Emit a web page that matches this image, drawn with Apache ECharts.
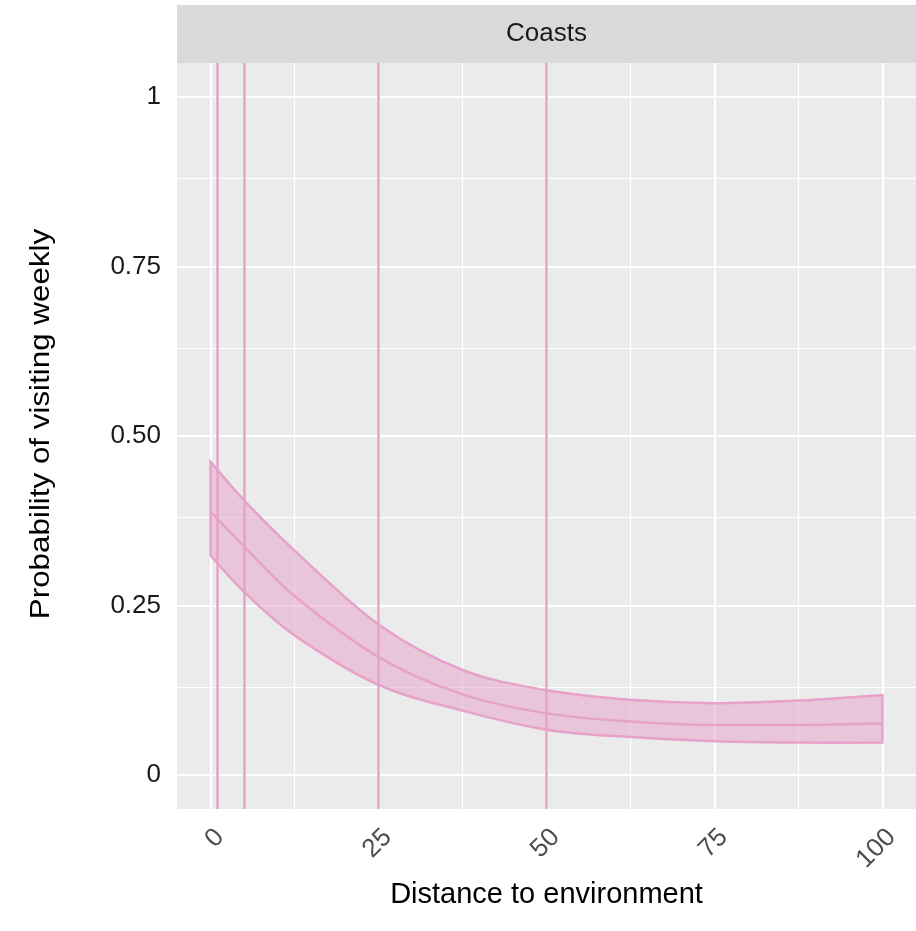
<!DOCTYPE html>
<html><head><meta charset="utf-8">
<script src="https://cdn.jsdelivr.net/npm/echarts@6/dist/echarts.min.js"></script>
<style>html,body{margin:0;padding:0;background:#fff}#c{width:916px;height:931px}</style>
</head><body><div id="c"></div>
<script>
// ---- data ----
const distance   = [0, 5, 12.5, 25, 37.5, 50, 62.5, 75, 87.5, 100];
const probFit    = [0.388, 0.337, 0.264, 0.174, 0.119, 0.091, 0.079, 0.074, 0.074, 0.076];
const probUpper  = [0.462, 0.405, 0.331, 0.222, 0.155, 0.125, 0.111, 0.106, 0.110, 0.118];
const probLower  = [0.324, 0.270, 0.206, 0.133, 0.095, 0.067, 0.056, 0.050, 0.048, 0.048];
const refDistances = [1, 5, 25, 50];
const xMajorTicks = [0, 25, 50, 75, 100];
const xMinorTicks = [12.5, 37.5, 62.5, 87.5];
const yMajorTicks = [0, 0.25, 0.5, 0.75, 1];
const yTickLabels = ['0', '0.25', '0.50', '0.75', '1'];
const yMinorTicks = [0.125, 0.375, 0.625, 0.875];
const panelTitle = 'Coasts';
const xTitle = 'Distance to environment';
const yTitle = 'Probability of visiting weekly';

// ---- styling ----
const PINK = '#e6a2c9';
const FILL = 'rgba(230,160,200,0.5)';
const FONT = '"Liberation Sans", Arial, Helvetica, sans-serif';
const GL = 177, GT = 63, GB = 122, W = 916, H = 931;

const chart = echarts.init(document.getElementById('c'), null, {renderer: 'canvas'});

const gridLines = [];
xMajorTicks.forEach(v => gridLines.push({xAxis: v, lineStyle: {color: '#fff', width: 2.2, type: 'solid'}}));
xMinorTicks.forEach(v => gridLines.push({xAxis: v, lineStyle: {color: '#fff', width: 1.1, type: 'solid'}}));
yMajorTicks.forEach(v => gridLines.push({yAxis: v, lineStyle: {color: '#fff', width: 2.2, type: 'solid'}}));
yMinorTicks.forEach(v => gridLines.push({yAxis: v, lineStyle: {color: '#fff', width: 1.1, type: 'solid'}}));

// Catmull-Rom spline segments in pixel space (rendering only)
function splineSegs(pts) {
  let s = '';
  for (let i = 0; i < pts.length - 1; i++) {
    const p0 = pts[i - 1] || pts[i], p1 = pts[i], p2 = pts[i + 1], p3 = pts[i + 2] || pts[i + 1];
    const c1x = p1[0] + (p2[0] - p0[0]) / 6, c1y = p1[1] + (p2[1] - p0[1]) / 6;
    const c2x = p2[0] - (p3[0] - p1[0]) / 6, c2y = p2[1] - (p3[1] - p1[1]) / 6;
    s += ` C${c1x} ${c1y} ${c2x} ${c2y} ${p2[0]} ${p2[1]}`;
  }
  return s;
}

const option = {
  animation: false,
  backgroundColor: '#ffffff',
  grid: {left: GL, right: 0, top: GT, bottom: GB, show: true, backgroundColor: '#ebebeb', borderWidth: 0},
  xAxis: {
    type: 'value', min: -5, max: 105,
    name: xTitle, nameLocation: 'middle', nameGap: 63,
    nameTextStyle: {fontFamily: FONT, fontSize: 29, color: '#000'},
    axisLine: {show: false},
    axisTick: {show: true, customValues: xMajorTicks, length: 8, lineStyle: {color: '#333', width: 2}},
    axisLabel: {customValues: xMajorTicks, rotate: 45, margin: 15, verticalAlign: 'top',
      fontFamily: FONT, fontSize: 26, color: '#4d4d4d'},
    splitLine: {show: false}
  },
  yAxis: {
    type: 'value', min: -0.05, max: 1.05,
    axisLine: {show: false},
    axisTick: {show: true, customValues: yMajorTicks, length: 8, lineStyle: {color: '#333', width: 2}},
    axisLabel: {customValues: yMajorTicks, margin: 16, fontFamily: FONT, fontSize: 26, color: '#1a1a1a',
      formatter: v => { const i = yMajorTicks.findIndex(t => Math.abs(t - v) < 1e-9); return i >= 0 ? yTickLabels[i] : ''; }},
    splitLine: {show: false}
  },
  graphic: [
    {type: 'rect', left: GL, top: 5, shape: {width: W - GL, height: GT - 5}, style: {fill: '#d9d9d9'}, z: 10},
    {type: 'text', x: (GL + W) / 2, y: (GT + 5) / 2, z: 11,
      style: {text: panelTitle, fill: '#1a1a1a', fontSize: 26, fontFamily: FONT, align: 'center', verticalAlign: 'middle'}},
    {type: 'text', x: 41, y: 424, rotation: Math.PI / 2, scaleX: 1.12, z: 11,
      style: {text: yTitle, fill: '#000', fontSize: 28, fontFamily: FONT, align: 'center', verticalAlign: 'middle'}}
  ],
  series: [
    {type: 'line', data: [], z: 1, silent: true,
      markLine: {z: 1, silent: true, symbol: 'none', label: {show: false}, data: gridLines}},
    {type: 'custom', z: 2, silent: true, clip: true,
      data: [[distance[0], probFit[0]]],
      renderItem: function (params, api) {
        const up = distance.map((d, i) => api.coord([d, probUpper[i]]));
        const lo = distance.map((d, i) => api.coord([d, probLower[i]])).reverse();
        const path = `M${up[0][0]} ${up[0][1]}` + splineSegs(up) +
                     ` L${lo[0][0]} ${lo[0][1]}` + splineSegs(lo) + ' Z';
        return {type: 'path', shape: {pathData: path},
          style: {fill: FILL, stroke: PINK, lineWidth: 2.5, lineJoin: 'miter'}};
      }},
    {type: 'line', name: 'fit', smooth: 0.33, symbol: 'none', z: 3,
      data: distance.map((d, i) => [d, probFit[i]]),
      lineStyle: {color: PINK, width: 2.5}},
    {type: 'line', data: [], z: 4, silent: true,
      markLine: {z: 4, silent: true, symbol: 'none', label: {show: false},
        lineStyle: {color: PINK, width: 2.5, type: 'solid'},
        data: refDistances.map(v => ({xAxis: v}))}}
  ]
};
chart.setOption(option);
</script>
</body></html>
